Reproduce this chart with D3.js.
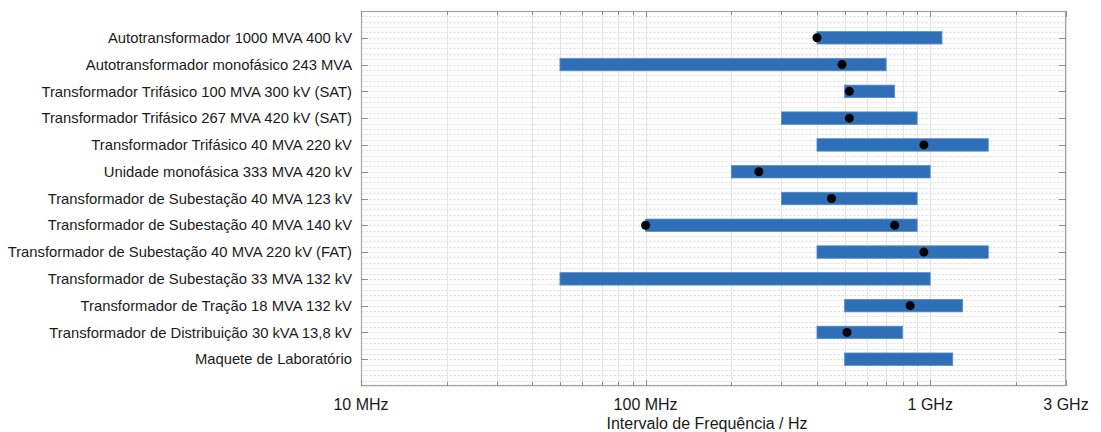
<!DOCTYPE html>
<html><head><meta charset="utf-8">
<script src="https://cdn.jsdelivr.net/npm/d3@7"></script>
<style>
body{margin:0;background:#fff;}
svg text{font-family:"Liberation Sans",Arial,Helvetica,sans-serif;fill:#1a1a1a;}
</style></head>
<body>
<svg id="chart" width="1101" height="432"></svg>
<script>
const categories = [
  "Autotransformador 1000 MVA 400 kV",
  "Autotransformador monofásico 243 MVA",
  "Transformador Trifásico 100 MVA 300 kV (SAT)",
  "Transformador Trifásico 267 MVA 420 kV (SAT)",
  "Transformador Trifásico 40 MVA 220 kV",
  "Unidade monofásica 333 MVA 420 kV",
  "Transformador de Subestação 40 MVA 123 kV",
  "Transformador de Subestação 40 MVA 140 kV",
  "Transformador de Subestação 40 MVA 220 kV (FAT)",
  "Transformador de Subestação 33 MVA 132 kV",
  "Transformador de Tração 18 MVA 132 kV",
  "Transformador de Distribuição 30 kVA 13,8 kV",
  "Maquete de Laboratório"
];
const rangeStart = [400e6, 50e6, 500e6, 300e6, 400e6, 200e6, 300e6, 100e6, 400e6, 50e6, 500e6, 400e6, 500e6];
const rangeEnd   = [1.1e9, 700e6, 750e6, 900e6, 1.6e9, 1.0e9, 900e6, 900e6, 1.6e9, 1.0e9, 1.3e9, 800e6, 1.2e9];
const markerCategory = [0, 1, 2, 3, 4, 5, 6, 7, 7, 8, 10, 11];
const markerFreq     = [400e6, 490e6, 520e6, 520e6, 950e6, 250e6, 450e6, 100e6, 750e6, 950e6, 850e6, 510e6];
const xTickValues = [1e7, 1e8, 1e9, 3e9];
const xTickLabels = ["10 MHz", "100 MHz", "1 GHz", "3 GHz"];
const xDomain = [1e7, 3e9];
const xLabel = "Intervalo de Frequência / Hz";

const L = 361, R = 1066, T = 11, B = 386;
const svg = d3.select("#chart");
const x = d3.scaleLog().domain(xDomain).range([L, R]);
const y = d3.scaleLinear().domain([0, categories.length + 1]).range([T, B]);

// minor tick values
const minorTicks = [];
for (let dec = 1e7; dec < 3e9; dec *= 10) {
  for (let k = 1; k <= 9; k++) { const v = k * dec; if (v <= 3e9) minorTicks.push(v); }
}
minorTicks.push(3e9);

// horizontal minor grid
const hGrid = d3.range(0, categories.length + 1.001, 0.2).map(v => +v.toFixed(2));
svg.append("g").selectAll("line").data(hGrid).join("line")
  .attr("x1", L).attr("x2", R)
  .attr("y1", d => Math.round(y(d)) + 0.5).attr("y2", d => Math.round(y(d)) + 0.5)
  .attr("stroke", "#e6e6e6").attr("stroke-width", 1).attr("stroke-dasharray", "3,1");

// vertical grid
svg.append("g").selectAll("line").data(minorTicks).join("line")
  .attr("x1", d => Math.round(x(d)) + 0.5).attr("x2", d => Math.round(x(d)) + 0.5)
  .attr("y1", T).attr("y2", B)
  .attr("stroke", "#e4e4e4").attr("stroke-width", 1);

// bars
const barH = 12.5;
svg.append("g").selectAll("rect").data(categories).join("rect")
  .attr("x", (d, i) => x(rangeStart[i]))
  .attr("width", (d, i) => x(rangeEnd[i]) - x(rangeStart[i]))
  .attr("y", (d, i) => y(i + 1) - barH / 2)
  .attr("height", barH)
  .attr("fill", "#2f6fb8").attr("stroke", "#5a8fd0").attr("stroke-width", 0.8);

// markers
svg.append("g").selectAll("circle").data(markerFreq).join("circle")
  .attr("cx", (d) => x(d))
  .attr("cy", (d, i) => y(markerCategory[i] + 1))
  .attr("r", 4.5).attr("fill", "#000");

// box
svg.append("rect").attr("x", L + 0.5).attr("y", T + 0.5).attr("width", R - L - 1).attr("height", B - T - 1)
  .attr("fill", "none").attr("stroke", "#a6a6a6").attr("stroke-width", 1.2);

// x ticks top/bottom
const isMajor = v => xTickValues.includes(v);
const tk = svg.append("g").attr("stroke", "#8c8c8c").attr("stroke-width", 1);
minorTicks.forEach(v => {
  const len = isMajor(v) ? 6 : 4;
  const xx = Math.round(x(v)) + 0.5;
  tk.append("line").attr("x1", xx).attr("x2", xx).attr("y1", T).attr("y2", T + len);
  tk.append("line").attr("x1", xx).attr("x2", xx).attr("y1", B).attr("y2", B - len);
});
// y ticks left/right
categories.forEach((c, i) => {
  const yy = Math.round(y(i + 1)) + 0.5;
  tk.append("line").attr("x1", L).attr("x2", L + 7).attr("y1", yy).attr("y2", yy);
  tk.append("line").attr("x1", R).attr("x2", R - 7).attr("y1", yy).attr("y2", yy);
});

// y labels
svg.append("g").selectAll("text").data(categories).join("text")
  .attr("x", L - 9).attr("y", (d, i) => y(i + 1))
  .attr("dy", "0.35em").attr("text-anchor", "end")
  .attr("font-size", 14.8).text(d => d);

// x labels
svg.append("g").selectAll("text").data(xTickValues).join("text")
  .attr("x", d => x(d)).attr("y", 410)
  .attr("text-anchor", "middle").attr("font-size", 16)
  .text((d, i) => xTickLabels[i]);

svg.append("text").attr("x", 707).attr("y", 429)
  .attr("text-anchor", "middle").attr("font-size", 16).text(xLabel);
</script>
</body></html>
